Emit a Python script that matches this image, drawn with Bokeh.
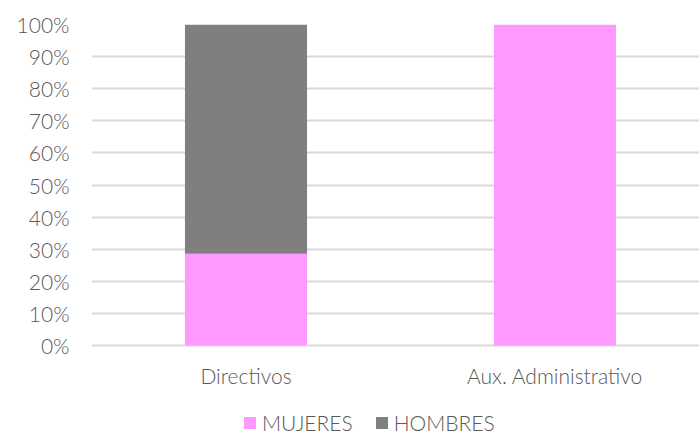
from bokeh.plotting import figure
from bokeh.models import ColumnDataSource, Range1d, FixedTicker, Legend, LegendItem
from bokeh.embed import file_html
from bokeh.resources import INLINE

categories = ["Directivos", "Aux. Administrativo"]
mujeres = [28.6, 100.0]
hombres = [71.4, 0.0]
y_ticks = [0, 10, 20, 30, 40, 50, 60, 70, 80, 90, 100]
series_names = ["MUJERES", "HOMBRES"]
colors = ["#ff99ff", "#7f7f7f"]

FONT = "Lato Light, Lato"
TXT = "#595959"
FS = "21px"

xs = [i + 0.5 for i in range(len(categories))]
src = ColumnDataSource(dict(x=xs, mujeres=mujeres, hombres=hombres))

# frame spans down to the page bottom; 100 units -> 321 px, extra 90 px below zero for labels/legend
p = figure(frame_width=608, frame_height=411, output_backend="svg", toolbar_location=None,
           x_range=Range1d(0, 608 / 309), y_range=Range1d(-100 * 90 / 321, 100),
           min_border_left=91, min_border_right=0, min_border_top=24, min_border_bottom=0)
p.outline_line_color = None
p.background_fill_color = "white"
p.border_fill_color = "white"

r = p.vbar_stack(["mujeres", "hombres"], x="x", width=0.395, source=src,
                 color=colors, line_color=None)

p.xgrid.grid_line_color = None
p.ygrid.grid_line_color = "#d9d9d9"
p.ygrid.grid_line_width = 2
p.ygrid.ticker = FixedTicker(ticks=y_ticks)

for ax in (p.xaxis[0], p.yaxis[0]):
    ax.axis_line_color = None
    ax.major_tick_line_color = None
    ax.minor_tick_line_color = None
    ax.major_tick_out = 0
    ax.major_tick_in = 0
    ax.major_label_text_font = FONT
    ax.major_label_text_font_size = FS
    ax.major_label_text_color = TXT

p.yaxis.ticker = FixedTicker(ticks=y_ticks)
p.yaxis.major_label_overrides = {t: f"{t}%" for t in y_ticks}
p.yaxis.major_label_standoff = 22

p.xaxis.ticker = FixedTicker(ticks=xs)
p.xaxis.major_label_overrides = {x: c for x, c in zip(xs, categories)}
p.xaxis.major_label_standoff = 17
p.xaxis.fixed_location = 0

legend = Legend(items=[LegendItem(label=n, renderers=[rr]) for n, rr in zip(series_names, r)],
                orientation="horizontal", location=(151, 0),
                glyph_width=15, glyph_height=15, label_standoff=5, spacing=21,
                label_text_font=FONT, label_text_font_size=FS, label_text_color=TXT,
                border_line_color=None, background_fill_alpha=0, padding=0, margin=0)
p.add_layout(legend, "center")

open("out.html", "w").write(file_html(p, INLINE))
